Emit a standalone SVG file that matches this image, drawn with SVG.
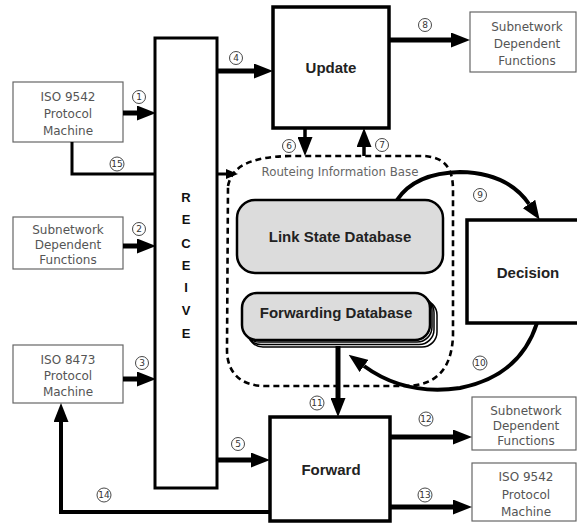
<svg xmlns="http://www.w3.org/2000/svg" width="577" height="523" viewBox="0 0 577 523">
  <style>
    .ext rect { fill: #fff; stroke: #666; stroke-width: 1.2; }
    .ext text { font-family: "DejaVu Sans", "Liberation Sans", sans-serif; font-size: 12px; fill: #555; text-anchor: middle; }
    .proc rect { fill: #fff; stroke: #000; stroke-width: 3.5; }
    .big { font-family: "Liberation Sans", Arial, sans-serif; font-weight: bold; font-size: 15px; fill: #222; text-anchor: middle; }
    .recv { font-family: "Liberation Sans", Arial, sans-serif; font-weight: bold; font-size: 13px; fill: #111; text-anchor: middle; }
    .db { fill: #dcdcdc; stroke: #000; stroke-width: 2.5; }
    .dbback { fill: #fff; stroke: #000; stroke-width: 1.5; }
    .flow { fill: none; stroke: #000; stroke-width: 5; }
    .thin { fill: none; stroke: #000; stroke-width: 3.5; }
    .num circle { fill: #fff; stroke: #333; stroke-width: 0.9; }
    .num text { font-family: "DejaVu Sans", sans-serif; font-size: 9px; fill: #333; text-anchor: middle; }
    .rib { fill: none; stroke: #000; stroke-width: 2.6; stroke-dasharray: 6 4; }
    .ribl { font-family: "DejaVu Sans", sans-serif; font-size: 11.8px; fill: #666; text-anchor: middle; }
  </style>
  <defs>
    <marker id="ah" markerUnits="userSpaceOnUse" markerWidth="19" markerHeight="15" refX="0" refY="7.5" orient="auto">
      <path d="M0,0 L19,7.5 L0,15 z" fill="#000"/>
    </marker>
    <marker id="ahs" markerUnits="userSpaceOnUse" markerWidth="12" markerHeight="10" refX="0" refY="5" orient="auto">
      <path d="M0,0 L12,5 L0,10 z" fill="#000"/>
    </marker>
  </defs>

  <!-- Routeing Information Base boundary -->
  <g id="rib">
    <path class="rib" d="M228,186 C232,166 250,157 290,156 L425,156 C445,158 453,168 453,190 L453,335 C452,370 435,386 405,386 L265,386 C240,386 227,372 227,350 Z"/>
    <text class="ribl" x="340" y="176">Routeing Information Base</text>
  </g>

  <!-- external boxes -->
  <g id="iso9542-in" class="ext">
    <rect x="13" y="82" width="110" height="60"/>
    <text x="68" y="101">ISO 9542</text>
    <text x="68" y="118">Protocol</text>
    <text x="68" y="135">Machine</text>
  </g>
  <g id="sndf-in" class="ext">
    <rect x="13" y="217" width="110" height="52"/>
    <text x="68" y="234">Subnetwork</text>
    <text x="68" y="249">Dependent</text>
    <text x="68" y="264">Functions</text>
  </g>
  <g id="iso8473" class="ext">
    <rect x="13" y="345" width="110" height="58"/>
    <text x="68" y="364">ISO 8473</text>
    <text x="68" y="380">Protocol</text>
    <text x="68" y="396">Machine</text>
  </g>
  <g id="sndf-update" class="ext">
    <rect x="470" y="12" width="106" height="60"/>
    <text x="527" y="31">Subnetwork</text>
    <text x="527" y="48">Dependent</text>
    <text x="527" y="65">Functions</text>
  </g>
  <g id="sndf-forward" class="ext">
    <rect x="472" y="397" width="104" height="53"/>
    <text x="526" y="415">Subnetwork</text>
    <text x="526" y="430">Dependent</text>
    <text x="526" y="445">Functions</text>
  </g>
  <g id="iso9542-out" class="ext">
    <rect x="472" y="463" width="104" height="58"/>
    <text x="526" y="481">ISO 9542</text>
    <text x="526" y="499">Protocol</text>
    <text x="526" y="516">Machine</text>
  </g>

  <!-- processes -->
  <g id="receive" class="proc">
    <rect x="155" y="38" width="62" height="450" style="stroke-width:3"/>
    <text class="recv" x="186" y="202">R</text>
    <text class="recv" x="186" y="224">E</text>
    <text class="recv" x="186" y="248">C</text>
    <text class="recv" x="186" y="270">E</text>
    <text class="recv" x="186" y="292">I</text>
    <text class="recv" x="186" y="315">V</text>
    <text class="recv" x="186" y="338">E</text>
  </g>
  <g id="update" class="proc">
    <rect x="273" y="7" width="116" height="121"/>
    <text class="big" x="331" y="73">Update</text>
  </g>
  <g id="decision" class="proc">
    <rect x="467" y="220" width="120" height="103"/>
    <text class="big" x="528" y="278">Decision</text>
  </g>
  <g id="forward" class="proc">
    <rect x="270" y="417" width="120" height="104"/>
    <text class="big" x="331" y="475">Forward</text>
  </g>

  <!-- databases -->
  <g id="lsdb">
    <rect class="db" x="237" y="200" width="206" height="73" rx="18"/>
    <text class="big" x="340" y="242">Link State Database</text>
  </g>
  <g id="fdb">
    <rect class="dbback" x="248" y="300" width="189" height="47" rx="15"/>
    <rect class="dbback" x="246" y="297.5" width="188" height="47" rx="15"/>
    <rect class="dbback" x="244" y="295" width="188" height="47" rx="15"/>
    <rect class="db" x="242" y="293" width="188" height="47" rx="15"/>
    <text class="big" x="336" y="318">Forwarding Database</text>
  </g>

  <!-- connectors -->
  <g id="connectors">
    <line class="flow" x1="123" y1="113" x2="137" y2="113" marker-end="url(#ah)"/>
    <line class="flow" x1="123" y1="246" x2="137" y2="246" marker-end="url(#ah)"/>
    <line class="flow" x1="123" y1="379" x2="137" y2="379" marker-end="url(#ah)"/>
    <line class="flow" x1="217" y1="71" x2="254" y2="71" marker-end="url(#ah)"/>
    <line class="flow" x1="217" y1="460" x2="251" y2="460" marker-end="url(#ah)"/>
    <line class="flow" x1="389" y1="40" x2="451" y2="40" marker-end="url(#ah)"/>
    <line class="flow" x1="390" y1="437" x2="453" y2="437" marker-end="url(#ah)"/>
    <line class="flow" x1="390" y1="507" x2="453" y2="507" marker-end="url(#ah)"/>
    <line class="flow" x1="338" y1="346" x2="338" y2="398" marker-end="url(#ah)"/>
    <line class="thin" x1="305" y1="128" x2="305" y2="137" marker-end="url(#ah)"/>
    <line class="thin" x1="364" y1="156" x2="364" y2="147" marker-end="url(#ah)"/>
    <polyline class="thin" points="270,512 61,512 61,422" style="stroke-width:4" marker-end="url(#ah)"/>
    <polyline class="thin" points="72,142 72,174 155,174" style="stroke-width:3"/>
    <line class="thin" x1="217" y1="174" x2="226" y2="174" style="stroke-width:3" marker-end="url(#ahs)"/>
    <path class="thin" d="M397,200 Q415,173 460,172 Q508,173 529,204" style="stroke-width:4" marker-end="url(#ah)"/>
    <path class="thin" d="M537,323 Q520,376 460,388 Q405,396 364,366" style="stroke-width:4" marker-end="url(#ah)"/>
  </g>

  <!-- flow numbers -->
  <g id="labels" class="num">
    <circle cx="139" cy="97" r="6.5"/><text x="139" y="100.3">1</text>
    <circle cx="139" cy="229" r="6.5"/><text x="139" y="232.3">2</text>
    <circle cx="142" cy="363" r="6.5"/><text x="142" y="366.3">3</text>
    <circle cx="236" cy="58" r="6.5"/><text x="236" y="61.3">4</text>
    <circle cx="238" cy="444" r="6.5"/><text x="238" y="447.3">5</text>
    <circle cx="289" cy="146" r="6.5"/><text x="289" y="149.3">6</text>
    <circle cx="382" cy="145" r="6.5"/><text x="382" y="148.3">7</text>
    <circle cx="425" cy="25" r="6.5"/><text x="425" y="28.3">8</text>
    <circle cx="480" cy="195" r="6.5"/><text x="480" y="198.3">9</text>
    <circle cx="480" cy="363" r="7"/><text x="480" y="366.3">10</text>
    <circle cx="317" cy="403" r="7"/><text x="317" y="406.3">11</text>
    <circle cx="426" cy="419" r="7"/><text x="426" y="422.3">12</text>
    <circle cx="425" cy="495" r="7"/><text x="425" y="498.3">13</text>
    <circle cx="104" cy="495" r="7"/><text x="104" y="498.3">14</text>
    <circle cx="117" cy="164" r="7"/><text x="117" y="167.3">15</text>
  </g>
</svg>
